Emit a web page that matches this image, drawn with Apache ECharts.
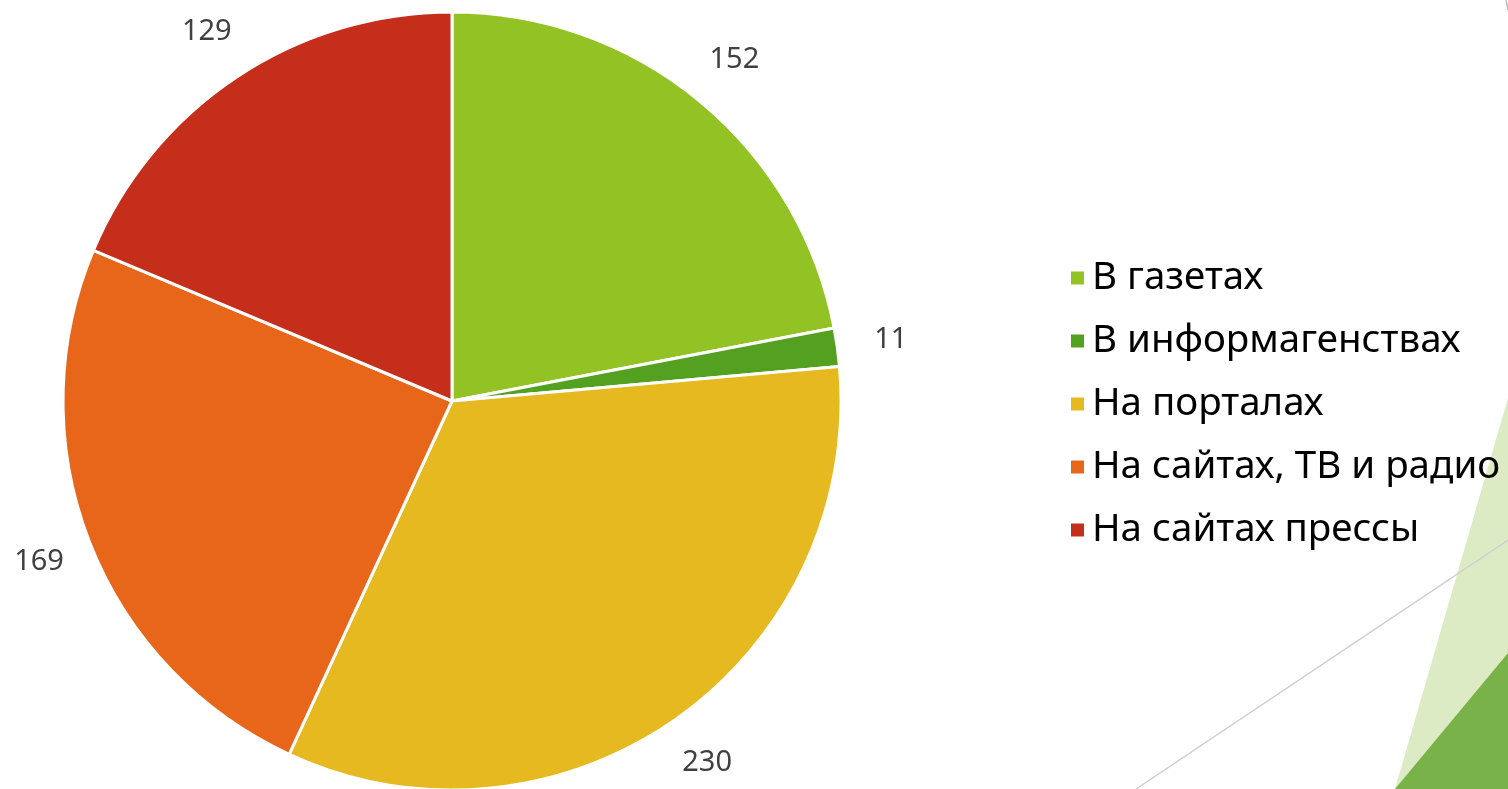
<!DOCTYPE html>
<html>
<head>
<meta charset="utf-8">
<script src="https://cdn.jsdelivr.net/npm/echarts@6/dist/echarts.min.js"></script>
<style>
html,body{margin:0;padding:0;background:#fff;}
#chart{width:1508px;height:789px;}
</style>
</head>
<body>
<div id="chart"></div>
<script>
const categories = ['В газетах', 'В информагенствах', 'На порталах', 'На сайтах, ТВ и радио', 'На сайтах прессы'];
const values = [152, 11, 230, 169, 129];
const colors = ['#93C225', '#54A021', '#E5B91F', '#E7661A', '#C42E1A'];
const FONT = '"Noto Sans", "Open Sans", sans-serif';

const chart = echarts.init(document.getElementById('chart'));
const data = categories.map((c, i) => ({ name: c, value: values[i], itemStyle: { color: colors[i] } }));

chart.setOption({
  backgroundColor: '#ffffff',
  animation: false,
  graphic: [
    { type: 'polygon', z: -10, shape: { points: [[1508, 398], [1508, 789], [1395, 789]] }, style: { fill: '#DDEBC4' } },
    { type: 'polygon', z: -9, shape: { points: [[1508, 653], [1508, 789], [1395, 789]] }, style: { fill: '#7AB24A' } },
    { type: 'line', z: -8, shape: { x1: 1136, y1: 789, x2: 1508, y2: 540 }, style: { stroke: '#CFCFCF', lineWidth: 1.5 } },
    { type: 'line', z: -8, shape: { x1: 1506, y1: 0, x2: 1508, y2: 10 }, style: { stroke: '#BBBBBB', lineWidth: 1.5 } }
  ],
  legend: {
    orient: 'vertical',
    left: 1064,
    top: 252,
    itemWidth: 15,
    itemHeight: 15,
    itemGap: 21,
    icon: 'rect',
    textStyle: { fontFamily: FONT, fontSize: 38.5, color: '#000', lineHeight: 42, padding: [0, 0, 0, 2] },
    data: categories.map((c, i) => ({ name: c, itemStyle: { color: colors[i] } }))
  },
  series: [
    {
      type: 'pie',
      center: [452, 401],
      radius: 389,
      startAngle: 90,
      clockwise: true,
      silent: true,
      itemStyle: { borderColor: '#ffffff', borderWidth: 3 },
      label: { show: false },
      labelLine: { show: false },
      data: data
    },
    {
      type: 'pie',
      center: [452, 401],
      radius: [420, 460],
      startAngle: 90,
      clockwise: true,
      silent: true,
      itemStyle: { color: 'rgba(0,0,0,0)', borderWidth: 0 },
      label: { show: true, position: 'inside', formatter: '{c}', fontFamily: FONT, fontSize: 29, color: '#404040' },
      labelLine: { show: false },
      data: categories.map((c, i) => ({ name: c, value: values[i] }))
    }
  ]
});
</script>
</body>
</html>
